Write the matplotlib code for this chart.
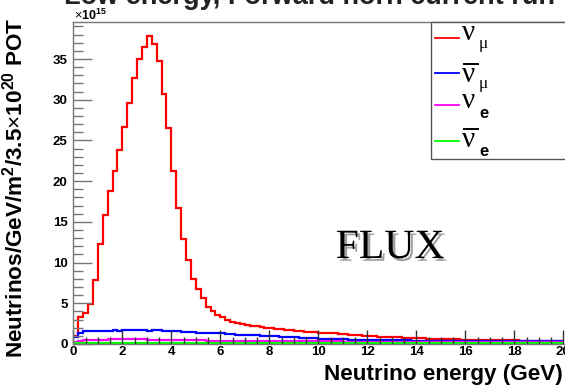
import numpy as np
import matplotlib
matplotlib.use("Agg")
import matplotlib.pyplot as plt
from matplotlib.lines import Line2D
from matplotlib.patches import Rectangle
import matplotlib.patheffects as pe

plt.rcParams['font.family'] = ['Liberation Sans', 'DejaVu Sans']
plt.rcParams['mathtext.fontset'] = 'custom'
plt.rcParams['mathtext.rm'] = 'Liberation Sans'
plt.rcParams['mathtext.bf'] = 'Liberation Sans:bold'
plt.rcParams['mathtext.it'] = 'Liberation Sans:italic'

# ---- data (units of 1e15 neutrinos / GeV / m^2 / 3.5e20 POT), 0.2 GeV bins from 0 to 20 GeV
bin_edges = np.linspace(0, 20, 101)

numu = [1.0, 3.35, 3.85, 4.9, 7.9, 12.3, 15.9, 18.8, 21.3, 23.8,
        26.6, 29.6, 32.7, 35.0, 36.5, 37.8, 36.9, 34.8, 30.7, 26.5,
        21.3, 16.7, 12.9, 10.3, 8.0, 6.75, 5.6, 4.6, 4.1, 3.55,
        3.3, 2.95, 2.75, 2.6, 2.45, 2.35, 2.25, 2.15, 2.1, 2.0,
        1.95, 1.9, 1.8, 1.75, 1.7, 1.65, 1.6, 1.5, 1.5, 1.45,
        1.4, 1.35, 1.4, 1.3, 1.25, 1.2, 1.15, 1.1, 1.05, 1.0,
        0.95, 0.95, 0.9, 0.88, 0.85, 0.82, 0.8, 0.78, 0.75, 0.72,
        0.7, 0.68, 0.66, 0.64, 0.62, 0.6, 0.6, 0.58, 0.56, 0.55,
        0.54, 0.52, 0.52, 0.5, 0.5, 0.48, 0.46, 0.46, 0.45, 0.44,
        0.43, 0.42, 0.42, 0.41, 0.4, 0.4, 0.39, 0.38, 0.38, 0.37]

numubar = [0.85, 1.3, 1.55, 1.6, 1.55, 1.65, 1.6, 1.55, 1.75, 1.6,
           1.7, 1.75, 1.7, 1.75, 1.7, 1.65, 1.7, 1.7, 1.6, 1.6,
           1.65, 1.55, 1.5, 1.45, 1.45, 1.4, 1.4, 1.35, 1.35, 1.3,
           1.3, 1.25, 1.2, 1.15, 1.15, 1.1, 1.07, 1.05, 1.0, 1.0,
           0.97, 0.95, 0.9, 0.85, 0.85, 0.8, 0.78, 0.75, 0.72, 0.7,
           0.66, 0.64, 0.62, 0.6, 0.58, 0.56, 0.55, 0.53, 0.52, 0.5,
           0.5, 0.49, 0.48, 0.47, 0.46, 0.45, 0.45, 0.44, 0.43, 0.42,
           0.42, 0.41, 0.4, 0.4, 0.39, 0.39, 0.38, 0.38, 0.37, 0.37,
           0.36, 0.36, 0.36, 0.35, 0.35, 0.35, 0.34, 0.34, 0.34, 0.34,
           0.33, 0.33, 0.33, 0.33, 0.32, 0.32, 0.32, 0.32, 0.31, 0.31]

nue = [0.3, 0.4, 0.45, 0.5, 0.52, 0.55, 0.55, 0.57, 0.58, 0.58,
       0.58, 0.6, 0.58, 0.57, 0.56, 0.55, 0.53, 0.52, 0.5, 0.49,
       0.47, 0.46, 0.45, 0.45, 0.44, 0.43, 0.43, 0.42, 0.42, 0.41,
       0.4, 0.4, 0.39, 0.39, 0.38, 0.38, 0.37, 0.37, 0.36, 0.36,
       0.35, 0.35, 0.35, 0.34, 0.34, 0.34, 0.33, 0.33, 0.33, 0.32,
       0.32, 0.32, 0.31, 0.31, 0.31, 0.3, 0.3, 0.3, 0.3, 0.29,
       0.29, 0.29, 0.29, 0.28, 0.28, 0.28, 0.28, 0.27, 0.27, 0.27,
       0.27, 0.26, 0.26, 0.26, 0.26, 0.25, 0.25, 0.25, 0.25, 0.24,
       0.24, 0.24, 0.24, 0.23, 0.23, 0.23, 0.23, 0.22, 0.22, 0.22,
       0.22, 0.21, 0.21, 0.21, 0.21, 0.2, 0.2, 0.2, 0.2, 0.2]

nuebar = [0.1] * 100

# (values, colour, subscript, is antineutrino, subscript is greek)
series = [
    (numu, '#ff0000', 'μ', False, True),
    (numubar, '#0000ff', 'μ', True, True),
    (nue, '#ff00ff', 'e', False, False),
    (nuebar, '#00ff00', 'e', True, False),
]

W, H = 565, 387
fig = plt.figure(figsize=(W / 100, H / 100), dpi=100)
fig.patch.set_facecolor('white')

ax_l, ax_r, ax_t, ax_b = 73.3, 567.0, 22.0, 344.0
ax = fig.add_axes([ax_l / W, 1 - ax_b / H, (ax_r - ax_l) / W, (ax_b - ax_t) / H])

for vals, col, _, _, _ in series:
    ax.stairs(vals, bin_edges, color=col, lw=1.6, baseline=None)

ax.set_xlim(0, 20 + (ax_r - 563.3) / 24.5)
ax.set_ylim(0, 39.55)

ax.set_xticks(np.arange(0, 21, 2))
ax.set_xticks(np.arange(0, 20.01, 0.5), minor=True)
ax.set_yticks(np.arange(0, 36, 5))
ax.set_yticks(np.arange(0, 40, 1), minor=True)
ax.tick_params(axis='x', which='major', direction='in', length=10, width=1, color='#333333', pad=1.5,
               labelsize=9.5)
ax.tick_params(axis='x', which='minor', direction='in', length=5, width=1, color='#333333')
ax.tick_params(axis='y', which='major', direction='in', length=14, width=1, color='#777777', pad=4,
               labelsize=9.5)
ax.tick_params(axis='y', which='minor', direction='in', length=7, width=1, color='#777777')
for lbl in ax.get_xticklabels() + ax.get_yticklabels():
    lbl.set_fontweight('bold')
for sp in ax.spines.values():
    sp.set_color('#777777')
    sp.set_linewidth(1.0)

# multiplier
fig.text(74 / W, 1 - 20.5 / H, r'$\times\mathbf{10^{15}}$', fontsize=9, ha='left', va='baseline')

# axis titles
fig.text(563 / W, 1 - 380 / H, 'Neutrino energy (GeV)', fontsize=16.2, fontweight='bold',
         ha='right', va='baseline')
fig.text(15 / W, 1 - 188 / H, r'Neutrinos/GeV/m$^{\mathbf{2}}$/3.5$\times$10$^{\mathbf{20}}$ POT',
         fontsize=16.2, fontweight='bold', rotation=90, ha='center', va='center')

# title, cropped at top of the canvas
fig.text(310 / W, 1 - 4.0 / H, 'Low energy, Forward horn current run', fontsize=19.5,
         fontweight='bold', ha='center', va='baseline', color='#222222')

# FLUX label with shadow
ax.text(12.93, 10.56, 'FLUX', family='Liberation Serif', fontsize=30, ha='center', va='baseline',
        color='black',
        path_effects=[pe.withSimplePatchShadow(offset=(2, -2), shadow_rgbFace='#888888', alpha=0.8)])

# legend box (manual, ROOT style)
fig.patches.append(Rectangle((430.7 / W, 1 - 159 / H), (600 - 430.7) / W, (159 - 22) / H,
                             transform=fig.transFigure, facecolor='white', edgecolor='#555555',
                             lw=1.0, zorder=5))
leg_line_y = [38.3, 73.3, 105, 141]
leg_base_y = [40, 81.7, 108.3, 146.7]
leg_sub_y = [48.5, 88, 117.5, 156]
for (vals, col, sub, anti, greek), ly, by, sy in zip(series, leg_line_y, leg_base_y, leg_sub_y):
    fig.add_artist(Line2D([435 / W, 459 / W], [1 - ly / H, 1 - ly / H], color=col, lw=1.3,
                          transform=fig.transFigure, zorder=6))
    fig.text(462 / W, 1 - by / H, 'ν', fontsize=21, family='Liberation Serif', ha='left',
             va='baseline', zorder=7)
    if anti:
        bar_y = by - 17.5
        fig.add_artist(Line2D([463.5 / W, 478 / W], [1 - bar_y / H, 1 - bar_y / H], color='black',
                              lw=1.4, transform=fig.transFigure, zorder=7))
    if greek:
        fig.text(479 / W, 1 - sy / H, sub, fontsize=12.5, family='Liberation Serif', ha='left',
                 va='baseline', zorder=7)
    else:
        fig.text(479 / W, 1 - sy / H, sub, fontsize=12, fontweight='bold', ha='left',
                 va='baseline', zorder=7)

fig.savefig('out.png', dpi=100)
